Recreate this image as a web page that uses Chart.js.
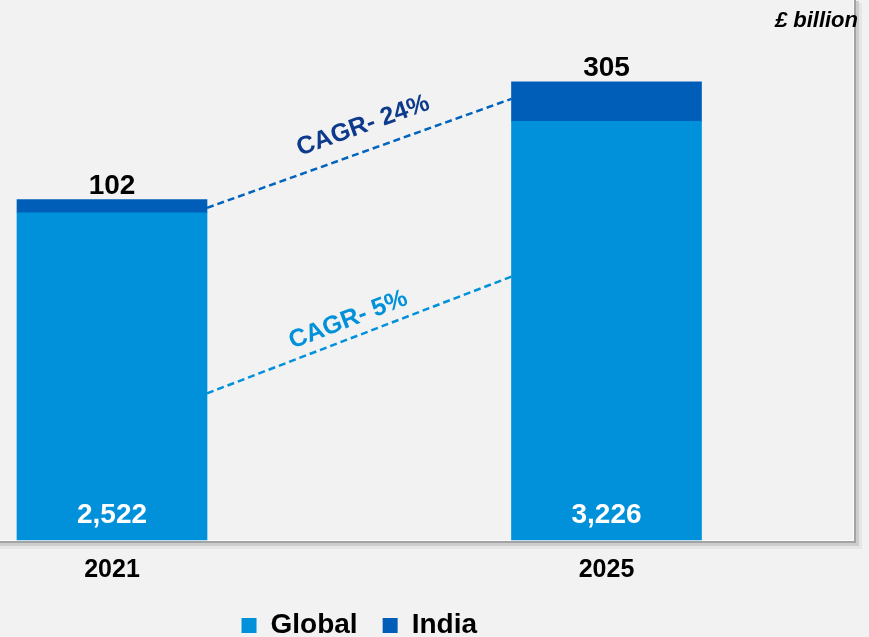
<!DOCTYPE html>
<html><head><meta charset="utf-8">
<script src="https://cdn.jsdelivr.net/npm/chart.js@4.4.1/dist/chart.umd.min.js"></script>
<style>html,body{margin:0;padding:0;background:#f2f2f2;overflow:hidden}</style>
</head><body>
<canvas id="c" width="869" height="637"></canvas>
<script>
// ---- data ----
const categories = ['2021', '2025'];
const seriesNames = ['Global', 'India'];
const globalValues = [2522, 3226];
const indiaValues = [102, 305];
const cagrLabels = ['CAGR- 24%', 'CAGR- 5%'];
const cagrFrom = [2560, 1130];   // value where dashed line leaves the 2021 bar
const cagrTo = [3400, 2030];     // value where dashed line meets the 2025 bar
const unitLabel = '£ billion';

const FONT = "Arial, 'Liberation Sans', sans-serif";
Chart.defaults.font.family = FONT;

const COL_GLOBAL = '#0091DA';
const COL_INDIA = '#005EB8';
const cagrStyles = [
  {line: '#0063BE', text: '#0E3A8C', t: 0.54, d: 24.6},
  {line: '#0091DA', text: '#0091DA', t: 0.485, d: 17.9}
];

const panelPlugin = {
  id: 'panel',
  beforeDraw(chart) {
    const ctx = chart.ctx;
    ctx.save();
    ctx.fillStyle = '#f2f2f2';
    ctx.fillRect(0, 0, chart.width, chart.height);
    ctx.fillStyle = '#e6e6e6';
    ctx.fillRect(857, 3, 5, 546);
    ctx.fillRect(0, 544, 862, 5);
    ctx.fillStyle = '#cdcdcd';
    ctx.fillRect(856, 1, 3, 545);
    ctx.fillRect(0, 543, 859, 3);
    ctx.fillStyle = '#a3a3a3';
    ctx.fillRect(854, 0, 2, 543);
    ctx.fillRect(0, 541, 856, 2);
    ctx.fillStyle = '#fbfbfb';
    ctx.fillRect(853, 0, 1, 541);
    ctx.fillRect(0, 540, 854, 1);
    ctx.restore();
  }
};

const labelPlugin = {
  id: 'labels',
  afterDatasetsDraw(chart) {
    const ctx = chart.ctx;
    const yScale = chart.scales.y;
    const gMeta = chart.getDatasetMeta(0);
    const iMeta = chart.getDatasetMeta(1);
    ctx.save();
    // CAGR lines
    cagrLabels.forEach((txt, k) => {
      const b0 = gMeta.data[0], b1 = gMeta.data[1];
      const x0 = b0.x + b0.width / 2, x1 = b1.x - b1.width / 2;
      const y0 = yScale.getPixelForValue(cagrFrom[k]);
      const y1 = yScale.getPixelForValue(cagrTo[k]);
      const st = cagrStyles[k];
      ctx.strokeStyle = st.line;
      ctx.lineWidth = 2.5;
      ctx.setLineDash([7, 4]);
      ctx.beginPath();
      ctx.moveTo(x0, y0);
      ctx.lineTo(x1, y1);
      ctx.stroke();
      ctx.setLineDash([]);
      const dx = x1 - x0, dy = y1 - y0, len = Math.hypot(dx, dy);
      const nx = dy / len, ny = -dx / len;
      const cx = x0 + dx * st.t + nx * st.d;
      const cy = y0 + dy * st.t + ny * st.d;
      ctx.save();
      ctx.translate(cx, cy);
      ctx.rotate(Math.atan2(dy, dx));
      ctx.fillStyle = st.text;
      ctx.font = 'bold 25px ' + FONT;
      ctx.textAlign = 'center';
      ctx.textBaseline = 'middle';
      ctx.fillText(txt, 0, 0);
      ctx.restore();
    });
    // value labels
    ctx.textAlign = 'center';
    ctx.textBaseline = 'alphabetic';
    ctx.font = 'bold 28px ' + FONT;
    iMeta.data.forEach((bar, i) => {
      ctx.fillStyle = '#000';
      ctx.fillText(indiaValues[i].toLocaleString('en-US'), bar.x, bar.y - 6);
    });
    gMeta.data.forEach((bar, i) => {
      ctx.fillStyle = '#fff';
      ctx.fillText(globalValues[i].toLocaleString('en-US'), bar.x, bar.base - 17);
    });
    // unit label
    ctx.font = 'italic bold 22px ' + FONT;
    ctx.textAlign = 'right';
    ctx.fillStyle = '#000';
    ctx.fillText(unitLabel, 858, 27);
    ctx.restore();
  }
};

new Chart(document.getElementById('c'), {
  type: 'bar',
  data: {
    labels: categories,
    datasets: [
      {label: seriesNames[0], data: globalValues, backgroundColor: COL_GLOBAL, clip: false, barThickness: 190},
      {label: seriesNames[1], data: indiaValues, backgroundColor: COL_INDIA, clip: false, barThickness: 190}
    ]
  },
  options: {
    responsive: false,
    animation: false,
    devicePixelRatio: 1,
    layout: {padding: {left: 112, right: 262.5, top: 21, bottom: -12.5}},
    plugins: {
      legend: {
        position: 'bottom',
        labels: {
          boxWidth: 15, boxHeight: 15, padding: 25, color: '#000',
          font: {size: 28, weight: 'bold', family: FONT}
        }
      },
      tooltip: {enabled: false}
    },
    scales: {
      x: {
        stacked: true,
        offset: false,
        grid: {display: false, drawTicks: false},
        border: {display: false},
        ticks: {color: '#000', padding: 15, font: {size: 25, weight: 'bold', family: FONT}},
        afterFit(axis) { axis.height = 46.5; }
      },
      y: {
        stacked: true,
        display: false,
        min: 0,
        max: 4000
      }
    }
  },
  plugins: [panelPlugin, labelPlugin]
});
</script>
</body></html>
